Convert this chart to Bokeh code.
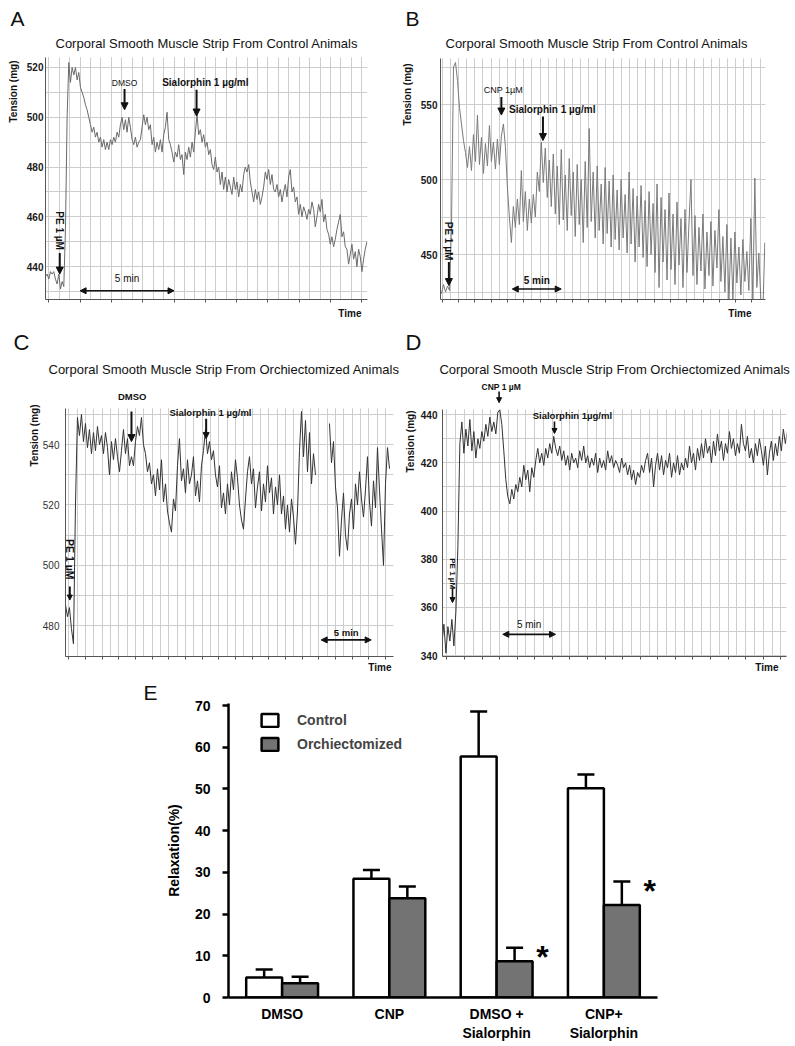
import math
from bokeh.plotting import figure
from bokeh.layouts import column, row
from bokeh.models import (Range1d, FixedTicker, Label, Arrow, NormalHead, TeeHead, Title,
                          Whisker, ColumnDataSource, Grid)
from bokeh.embed import file_html
from bokeh.resources import INLINE

FONT = "Liberation Sans"
NAN = float("nan")

# ---------------- isometric tension traces (mg), uniformly sampled ----------------
A_TENSION = [436,437,435,438,437,438,435,433,437,431,434,432,455,500,522,514,520,517,520,515,
             518,512,510,508,505,503,500,497,494,496,492,494,490,492,488,491,487,490,487,491,
             489,492,490,494,492,497,500,495,499,494,500,496,491,489,492,488,490,491,496,501,
             497,500,495,497,489,492,486,490,487,491,486,493,496,502,491,489,486,482,486,484,
             489,483,485,477,486,483,488,484,490,486,494,501,493,495,490,493,488,490,485,487,
             481,479,484,478,480,473,478,471,476,470,475,472,469,476,471,474,468,473,470,477,
             480,478,481,474,470,466,471,467,470,465,468,472,478,475,479,473,477,471,470,473,
             468,471,466,470,473,468,476,479,470,472,466,468,461,465,460,464,462,459,463,461,
             466,463,456,460,465,462,467,458,461,455,453,449,452,448,451,455,458,461,452,454,
             448,447,441,445,449,443,446,440,447,444,438,443,447,450]
A_T0, A_DT = -10.6, 5.32

B_TENSION = [428,424,430,425,429,426,470,575,578,566,548,537,526,518,508,522,506,530,512,543,
             510,528,504,524,509,536,512,525,507,527,510,529,537,522,495,475,458,482,468,487,
             470,506,472,492,466,487,471,490,475,505,492,525,498,521,488,513,482,517,477,509,
             470,520,473,503,466,514,476,505,462,510,470,500,458,512,468,534,472,505,461,509,
             466,497,457,508,464,499,455,503,460,493,453,500,461,490,451,505,457,494,445,489,
             455,496,448,486,442,492,450,484,438,497,428,488,445,480,433,491,440,477,430,485,
             443,474,428,480,438,471,500,436,476,430,468,439,477,427,465,436,472,429,466,441,
             480,432,462,425,470,418,461,420,465,431,455,423,460,432,452,426,474,419,501,428,
             451,420,410,458]
B_T0, B_DT = -16.3, 12.24

C_TENSION = [487,483,486,479,474,520,549,543,550,541,547,539,545,537,544,538,546,540,543,537,
             544,539,530,541,535,542,536,531,538,545,537,542,533,536,533,541,546,543,549,540,
             537,531,534,527,530,523,532,525,535,521,527,518,514,511,522,518,533,542,528,532,
             524,535,527,530,536,523,528,521,533,538,545,537,541,535,538,530,526,533,519,524,
             517,527,520,531,525,535,529,520,515,512,522,531,536,527,532,519,526,531,518,527,
             521,533,524,529,517,526,520,530,517,523,512,520,511,522,516,507,518,538,551,536,
             548,531,544,527,537,530,NAN,NAN,NAN,NAN,NAN,NAN,547,534,541,526,519,503,515,524,
             510,505,517,522,512,527,520,531,522,516,525,536,521,513,528,519,539,525,512,500,
             527,539,532]
C_T0, C_DT = -20.0, 12.0

D_TENSION = [345,353,341,352,346,355,344,358,385,428,437,424,434,427,438,425,433,422,430,426,
             433,429,436,431,439,433,437,432,441,442,436,425,413,406,403,409,405,411,408,414,
             410,419,413,417,408,418,414,421,426,420,424,419,426,422,428,424,431,426,423,427,
             421,425,419,423,417,424,420,422,418,425,421,427,420,423,418,422,419,424,416,422,
             418,421,417,425,420,423,418,421,419,416,422,418,420,415,419,413,417,411,416,414,
             419,416,421,424,416,422,410,419,424,417,423,415,421,418,424,414,420,416,423,415,
             420,417,422,418,427,420,424,417,426,421,428,422,430,424,427,420,429,423,432,425,
             429,421,428,424,433,426,430,423,428,424,436,428,425,431,422,426,420,428,423,430,
             425,419,427,415,424,429,421,428,423,431,425,434,428,433]
D_T0, D_DT = -28.4, 11.36

# drug additions (time, s)
A_EVENTS = {"PE": 35, "DMSO": 242, "SIAL": 472}
B_EVENTS = {"PE": 41, "CNP": 363, "SIAL": 618}
C_EVENTS = {"PE": 6, "DMSO": 376, "SIAL": 824}
D_EVENTS = {"PE": 32, "CNP": 297, "SIAL": 612}
SCALE_S = 300                       # 5 min scale bar
SCALE_START = {"A": 100, "B": 430, "C": 1514, "D": 318}

# ---------------- panel E: relaxation (%) ----------------
CATEGORIES = ["DMSO", "CNP", "DMSO +\nSialorphin", "CNP+\nSialorphin"]
CONTROL_MEAN = [4.8, 28.5, 57.8, 50.2]
CONTROL_SEM = [1.9, 2.1, 10.8, 3.3]
ORCH_MEAN = [3.4, 23.8, 8.7, 22.2]
ORCH_SEM = [1.6, 2.8, 3.2, 5.6]
SIGNIFICANT = [False, False, True, True]
Y_TICKS_E = [0, 10, 20, 30, 40, 50, 60, 70]

GRID = "#cdcdcd"
INK = "#111111"
HALF_PI = math.pi / 2
HAS_CROSS = "cross_bounds" in Grid.properties()

TITLE_CTRL = "Corporal Smooth Muscle Strip From Control Animals"
TITLE_ORX = "Corporal Smooth Muscle Strip From Orchiectomized Animals"


def times(t0, dt, n):
    return [t0 + i * dt for i in range(n)]


def frange(a, b, step):
    out, v = [], a
    while v <= b + 1e-9:
        out.append(round(v, 4))
        v += step
    return out


def add_title(p, side, text, size, align, offset, standoff, valign="bottom", bold=False):
    p.add_layout(Title(text=text, align=align, offset=offset, standoff=standoff,
                       vertical_align=valign, text_font=FONT, text_font_size=f"{size}px",
                       text_font_style="bold" if bold else "normal", text_color=INK), side)


def dlabel(p, x, y, text, size, bold=True, angle=0.0, color=INK):
    p.add_layout(Label(x=x, y=y, text=text, text_font=FONT, text_font_size=f"{size}px",
                       text_font_style="bold" if bold else "normal", text_align="center",
                       text_baseline="middle", angle=angle, text_color=color))


def darrow(p, x0, y0, x1, y1, lw=2.0, head=7, both=False):
    kw = dict(x_start=x0, y_start=y0, x_end=x1, y_end=y1, line_width=lw, line_color=INK,
              end=NormalHead(size=head, fill_color=INK, line_color=INK, line_width=1))
    if both:
        kw["start"] = NormalHead(size=head, fill_color=INK, line_color=INK, line_width=1)
    p.add_layout(Arrow(**kw))


def trace_panel(cfg, t, v, color):
    fx, fy, fw, fh = cfg["fig"]
    L, R, B = cfg["L"], cfg["R"], cfg["B"]
    top_axis, top_frame = cfg["top_axis"], cfg["top_frame"]
    y0, y1 = cfg["yr"]
    y_ext = y1 + (top_axis - top_frame) * (y1 - y0) / (B - top_axis)
    p = figure(width=fw, height=fh, x_range=Range1d(*cfg["xr"]), y_range=Range1d(y0, y_ext),
               output_backend="svg", toolbar_location=None, title=None,
               min_border_left=L - fx, min_border_top=top_frame - fy,
               min_border_right=fx + fw - R, min_border_bottom=fy + fh - B)
    p.outline_line_color = None
    p.background_fill_color = "white"
    p.border_fill_color = "white"
    xt = FixedTicker(ticks=cfg["xticks"], minor_ticks=cfg["xgrid"])
    yt = FixedTicker(ticks=cfg["yticks"], minor_ticks=cfg["ygrid"])
    p.xaxis.ticker = xt
    p.yaxis.ticker = yt
    p.xgrid.ticker = xt
    p.ygrid.ticker = yt
    p.yaxis.bounds = (y0, y1)
    if HAS_CROSS:
        p.xgrid.cross_bounds = (y0, y1)
    for g in (p.xgrid, p.ygrid):
        g.grid_line_color = GRID
        g.minor_grid_line_color = GRID
        g.grid_line_width = 1
        g.minor_grid_line_width = 1
    for ax in (p.xaxis, p.yaxis):
        ax.axis_line_color = "#555555"
        ax.axis_line_width = 1
        ax.minor_tick_line_color = None
        ax.minor_tick_out = 0
        ax.minor_tick_in = 0
        ax.major_tick_line_color = "#555555"
        ax.major_tick_in = 0
    p.xaxis.major_tick_out = 3
    p.xaxis.major_label_text_color = None
    p.xaxis.major_label_standoff = 0
    p.yaxis.major_tick_out = 0
    p.yaxis.major_label_standoff = cfg["tick_standoff"]
    p.yaxis.major_label_text_font = FONT
    p.yaxis.major_label_text_font_size = "10px"
    p.yaxis.major_label_text_font_style = "bold" if cfg["tick_bold"] else "normal"
    p.yaxis.major_label_text_color = cfg["tick_color"]
    p.line(t, v, line_color=color, line_width=1)
    # texts outside the data frame
    if cfg.get("title_align", "left") == "left":
        add_title(p, "above", cfg["title"], 13, "left", cfg["title_left"] - L, cfg["title_so"])
    else:
        add_title(p, "above", cfg["title"], 13, "right", R - cfg["title_right"], cfg["title_so"])
    add_title(p, "above", cfg["letter"], cfg["letter_size"], "left", cfg["letter_left"] - L, 0)
    add_title(p, "left", "Tension (mg)", 10, "right", cfg["ylab_top"] - top_frame,
              cfg["ylab_so"], bold=True)
    add_title(p, "below", "Time", 10, "right", R - cfg["time_right"], cfg["time_so"],
              valign="top", bold=True)
    return p


# frames of plots sharing a row are aligned top and bottom
CFG_A = dict(fig=(0, 0, 395, 327), L=45, R=367, B=299, top_axis=57, top_frame=55,
             xr=(-10.5, 1018), yr=(426.8, 524), yticks=[440, 460, 480, 500, 520],
             ygrid=frange(430, 520, 10), xticks=frange(0, 1000, 100),
             xgrid=frange(0, 1000, 100 / 3), tick_standoff=2, tick_bold=True,
             tick_color="#1a1a1a", title=TITLE_CTRL, title_left=55, title_so=9,
             letter="A", letter_size=21, letter_left=10, ylab_top=60, ylab_so=9,
             time_right=361, time_so=10)
CFG_B = dict(fig=(395, 0, 398, 327), L=440, R=765, B=299, top_axis=58, top_frame=55,
             xr=(-10.4, 1983), yr=(420.0, 580.7), yticks=[450, 500, 550],
             ygrid=frange(425, 575, 25), xticks=frange(0, 1900, 100),
             xgrid=frange(0, 1950, 50), tick_standoff=3, tick_bold=True,
             tick_color="#1a1a1a", title=TITLE_CTRL, title_left=445, title_so=9,
             letter="B", letter_size=21, letter_left=405, ylab_top=63, ylab_so=9,
             time_right=751, time_so=11)
CFG_C = dict(fig=(0, 327, 400, 351), L=65, R=393, B=656, top_axis=407, top_frame=380,
             xr=(-19.8, 1948), yr=(469.8, 552), yticks=[480, 500, 520, 540],
             ygrid=frange(480, 550, 10), xticks=frange(0, 1900, 100),
             xgrid=frange(0, 1900, 50), tick_standoff=6, tick_bold=False,
             tick_color="#333333", title=TITLE_ORX, title_left=48, title_so=10,
             letter="C", letter_size=22, letter_left=13, ylab_top=403, ylab_so=0,
             time_right=391, time_so=5)
CFG_D = dict(fig=(400, 327, 393, 351), L=442, R=786, B=656, top_axis=408, top_frame=380,
             xr=(-25, 1932), yr=(339.6, 442.2), yticks=[340, 360, 380, 400, 420, 440],
             ygrid=frange(340, 440, 10), xticks=frange(0, 1900, 100),
             xgrid=frange(0, 1900, 50), tick_standoff=5, tick_bold=True,
             tick_color="#1a1a1a", title=TITLE_ORX, title_align="right", title_right=790,
             title_so=10, letter="D", letter_size=22, letter_left=405, ylab_top=409,
             ylab_so=4, time_right=778, time_so=5)

# ---------- A ----------
pa = trace_panel(CFG_A, times(A_T0, A_DT, len(A_TENSION)), A_TENSION, "#6a6a6a")
dlabel(pa, A_EVENTS["DMSO"], 513.6, "DMSO", 8.5, bold=False)
darrow(pa, A_EVENTS["DMSO"], 511.3, A_EVENTS["DMSO"], 503)
dlabel(pa, 500, 514, "Sialorphin 1 µg/ml", 10)
darrow(pa, A_EVENTS["SIAL"], 511, A_EVENTS["SIAL"], 500.5)
dlabel(pa, A_EVENTS["PE"], 454.5, "PE 1 µM", 10, angle=-HALF_PI)
darrow(pa, A_EVENTS["PE"], 445.5, A_EVENTS["PE"], 437)
darrow(pa, SCALE_START["A"], 430.3, SCALE_START["A"] + SCALE_S, 430.3, lw=1.6, head=6, both=True)
dlabel(pa, SCALE_START["A"] + SCALE_S / 2, 435.3, "5 min", 10, bold=False)

# ---------- B ----------
pb = trace_panel(CFG_B, times(B_T0, B_DT, len(B_TENSION)), B_TENSION, "#7a7a7a")
dlabel(pb, 375, 559.8, "CNP 1µM", 9, bold=False)
darrow(pb, B_EVENTS["CNP"], 555, B_EVENTS["CNP"], 543)
dlabel(pb, 675, 546.4, "Sialorphin 1 µg/ml", 10)
darrow(pb, B_EVENTS["SIAL"], 542, B_EVENTS["SIAL"], 526)
dlabel(pb, B_EVENTS["PE"], 459, "PE 1 µM", 10, angle=-HALF_PI)
darrow(pb, B_EVENTS["PE"], 445, B_EVENTS["PE"], 429.3)
darrow(pb, SCALE_START["B"], 427, SCALE_START["B"] + SCALE_S, 427, lw=1.6, head=6, both=True)
dlabel(pb, SCALE_START["B"] + SCALE_S / 2, 432.7, "5 min", 10)

# ---------- C ----------
pc = trace_panel(CFG_C, times(C_T0, C_DT, len(C_TENSION)), C_TENSION, "#333333")
dlabel(pc, 380, 555.9, "DMSO", 9.5)
darrow(pc, C_EVENTS["DMSO"], 551, C_EVENTS["DMSO"], 541)
dlabel(pc, 850, 550.7, "Sialorphin 1 µg/ml", 9.5)
darrow(pc, C_EVENTS["SIAL"], 548.6, C_EVENTS["SIAL"], 542, head=6)
dlabel(pc, C_EVENTS["PE"], 502, "PE 1 µM", 10.5, angle=-HALF_PI)
darrow(pc, C_EVENTS["PE"], 493, C_EVENTS["PE"], 488.5, head=5)
darrow(pc, SCALE_START["C"], 475.3, SCALE_START["C"] + SCALE_S, 475.3, lw=1.6, head=6, both=True)
dlabel(pc, SCALE_START["C"] + SCALE_S / 2, 477.8, "5 min", 9.5)

# ---------- D ----------
pd_ = trace_panel(CFG_D, times(D_T0, D_DT, len(D_TENSION)), D_TENSION, "#333333")
dlabel(pd_, 309, 451.3, "CNP 1 µM", 8.5)
darrow(pd_, D_EVENTS["CNP"], 449.6, D_EVENTS["CNP"], 445.0, lw=1.6, head=5)
dlabel(pd_, 714, 439.7, "Sialorphin 1µg/ml", 9.5)
darrow(pd_, D_EVENTS["SIAL"], 437.2, D_EVENTS["SIAL"], 432.2, lw=1.6, head=5)
dlabel(pd_, D_EVENTS["PE"], 374, "PE 1 µM", 8, angle=-HALF_PI)
darrow(pd_, D_EVENTS["PE"], 367.8, D_EVENTS["PE"], 362, lw=1.6, head=5)
darrow(pd_, SCALE_START["D"], 348.8, SCALE_START["D"] + SCALE_S, 348.8, lw=1.6, head=6, both=True)
dlabel(pd_, SCALE_START["D"] + SCALE_S / 2, 352.9, "5 min", 10, bold=False)

# ---------- E ----------
E_FIG = (0, 678, 793, 366)
E_L, E_T, E_R, E_B = 228, 703, 657, 997
BAR_W = 0.335
centers = [i + 0.5 for i in range(len(CATEGORIES))]
pe = figure(width=E_FIG[2], height=E_FIG[3], x_range=Range1d(0, 4), y_range=Range1d(0, 70.5),
            output_backend="svg", toolbar_location=None, title=None,
            min_border_left=E_L - E_FIG[0], min_border_top=E_T - E_FIG[1],
            min_border_right=E_FIG[0] + E_FIG[2] - E_R,
            min_border_bottom=E_FIG[1] + E_FIG[3] - E_B)
pe.outline_line_color = None
src_c = ColumnDataSource(dict(x=[c - BAR_W / 2 for c in centers], top=CONTROL_MEAN,
                              upper=[m + s for m, s in zip(CONTROL_MEAN, CONTROL_SEM)]))
src_o = ColumnDataSource(dict(x=[c + BAR_W / 2 for c in centers], top=ORCH_MEAN,
                              upper=[m + s for m, s in zip(ORCH_MEAN, ORCH_SEM)]))
for src in (src_c, src_o):
    pe.add_layout(Whisker(source=src, base="x", lower="top", upper="upper", dimension="height",
                          line_color="black", line_width=2.5, lower_head=None,
                          upper_head=TeeHead(size=17, line_color="black", line_width=2.5)))
pe.vbar(x="x", top="top", bottom=0, width=BAR_W, source=src_c, fill_color="white",
        line_color="black", line_width=2.5, legend_label="Control")
pe.vbar(x="x", top="top", bottom=0, width=BAR_W, source=src_o, fill_color="#737373",
        line_color="black", line_width=2.5, legend_label="Orchiectomized")
star_x = [c + BAR_W for c, s in zip(centers, SIGNIFICANT) if s]
star_y = [m + e for m, e, s in zip(ORCH_MEAN, ORCH_SEM, SIGNIFICANT) if s]
pe.text(x=star_x, y=star_y, text=["*"] * len(star_x), text_font_size="32px",
        text_font_style="bold", text_align="center", text_baseline="middle",
        x_offset=10, y_offset=9, text_color="black")

pe.xgrid.grid_line_color = None
pe.ygrid.grid_line_color = None
for ax in (pe.xaxis, pe.yaxis):
    ax.axis_line_color = "black"
    ax.axis_line_width = 2.5
    ax.minor_tick_line_color = None
    ax.minor_tick_out = 0
    ax.minor_tick_in = 0
    ax.major_label_text_font = FONT
    ax.major_label_text_font_size = "14px"
    ax.major_label_text_font_style = "bold"
    ax.major_label_text_color = "black"
pe.yaxis.ticker = FixedTicker(ticks=Y_TICKS_E)
pe.yaxis.major_tick_out = 6
pe.yaxis.major_tick_in = 0
pe.yaxis.major_tick_line_width = 2.5
pe.yaxis.major_tick_line_color = "black"
pe.yaxis.major_label_standoff = 12
pe.yaxis.axis_label = "Relaxation(%)"
pe.yaxis.axis_label_text_font = FONT
pe.yaxis.axis_label_text_font_size = "14px"
pe.yaxis.axis_label_text_font_style = "bold"
pe.yaxis.axis_label_text_color = "black"
pe.yaxis.axis_label_standoff = 10
pe.xaxis.ticker = FixedTicker(ticks=centers)
pe.xaxis.major_tick_out = 0
pe.xaxis.major_tick_in = 0
pe.xaxis.major_label_standoff = 8
pe.xaxis.major_label_overrides = {c: name for c, name in zip(centers, CATEGORIES)}

leg = pe.legend[0]
leg.location = (31, 245)
leg.padding = 0
leg.margin = 0
leg.spacing = 8
leg.border_line_color = None
leg.background_fill_alpha = 0
leg.glyph_width = 21
leg.glyph_height = 16
leg.label_height = 16
leg.label_standoff = 17
leg.label_text_font = FONT
leg.label_text_font_size = "14px"
leg.label_text_font_style = "bold"
add_title(pe, "above", "E", 21, "left", 143 - E_L, 0)

layout = column(row(pa, pb), row(pc, pd_), pe)
open("out.html", "w", encoding="utf-8").write(file_html(layout, INLINE, title="Figure"))
